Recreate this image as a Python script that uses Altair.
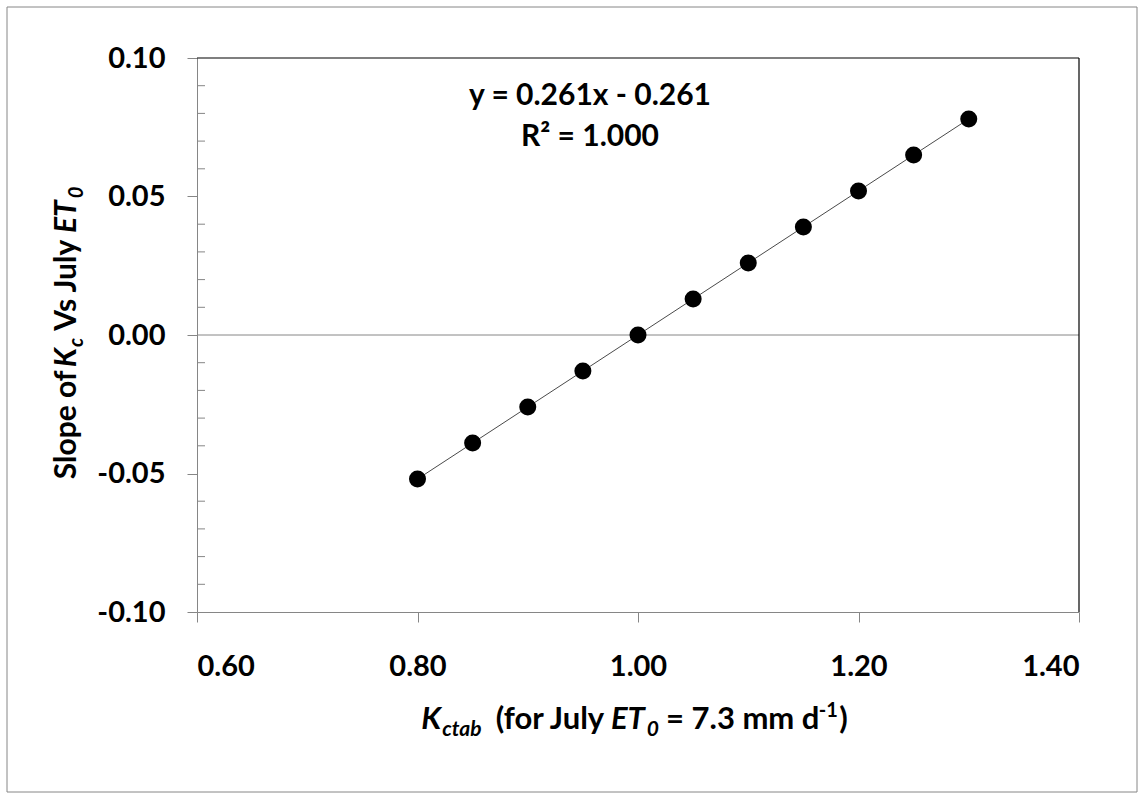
import altair as alt
import pandas as pd

# Tabulated crop coefficient and the slope of Kc against July ET0
kctab = [0.80, 0.85, 0.90, 0.95, 1.00, 1.05, 1.10, 1.15, 1.20, 1.25, 1.30]
slope = [-0.052, -0.039, -0.026, -0.013, 0.000, 0.013, 0.026, 0.039, 0.052, 0.065, 0.078]

x_ticks = [0.60, 0.80, 1.00, 1.20, 1.40]
y_ticks = [-0.10, -0.05, 0.00, 0.05, 0.10]
y_minor = [-0.09, -0.08, -0.07, -0.06, -0.04, -0.03, -0.02, -0.01,
           0.01, 0.02, 0.03, 0.04, 0.06, 0.07, 0.08, 0.09]

equation = ["y = 0.261x - 0.261", "R\u00b2 = 1.000"]

W, H = 882, 554
GRAY = "#868686"
FONT = "Lato"

df = pd.DataFrame({"kctab": kctab, "slope": slope})
xscale = alt.Scale(domain=[0.6, 1.4], nice=False, zero=False)
yscale = alt.Scale(domain=[-0.1, 0.1], nice=False, zero=False)

x_axis = alt.Axis(values=x_ticks, format=".2f", labelPadding=30)
y_axis = alt.Axis(values=y_ticks, labelPadding=22,
                  labelExpr="datum.value < 0 ? '-' + format(-datum.value, '.2f') : format(datum.value, '.2f')")
X = alt.X("kctab:Q", scale=xscale, title=None, axis=x_axis)
Y = alt.Y("slope:Q", scale=yscale, title=None, axis=y_axis)

# rough advance widths (em) of Lato Bold, used to lay out mixed-style titles
CW = {" ": 0.20, "(": 0.31, ")": 0.31, "-": 0.34, ".": 0.22, "=": 0.58,
      "E": 0.57, "J": 0.39, "K": 0.68, "R": 0.64, "S": 0.51, "T": 0.59, "V": 0.68,
      "a": 0.50, "b": 0.56, "c": 0.46, "d": 0.56, "e": 0.53, "f": 0.33, "l": 0.25,
      "m": 0.84, "o": 0.56, "p": 0.56, "r": 0.37, "s": 0.42, "t": 0.36, "u": 0.56,
      "y": 0.52, "x": 0.51}


def text_width(s, size):
    return sum(CW.get(ch, 0.58) for ch in s) * size


one = pd.DataFrame({"k": [0]})


def piece(text, x, y, size, italic=False, angle=0):
    kw = dict(text=text, font=FONT, fontSize=size, fontWeight="bold",
              align="left", baseline="alphabetic", color="black")
    if italic:
        kw["fontStyle"] = "italic"
    if angle:
        kw["angle"] = angle
    return alt.Chart(one).mark_text(**kw).encode(x=alt.value(x), y=alt.value(y))


def rich_title(parts, cx, cy, vertical=False):
    """parts: (gap before in px, text, size, italic, baseline shift)"""
    total = sum(g + text_width(t, s) for g, t, s, _, _ in parts)
    layers = []
    pos = (cy + total / 2) if vertical else (cx - total / 2)
    for gap, t, s, it, shift in parts:
        w = text_width(t, s)
        if vertical:
            pos -= gap
            layers.append(piece(t, cx + shift, pos, s, it, angle=270))
            pos -= w
        else:
            pos += gap
            layers.append(piece(t, pos, cy + shift, s, it))
            pos += w
    return layers


SP = 7  # one word space at the main size
x_title = rich_title([
    (0, "K", 31, True, 0), (0, "ctab", 21, True, 7),
    (2 * SP, "(for July", 31, False, 0), (SP, "ET", 31, True, 0), (0, "0", 21, True, 7),
    (SP, "= 7.3 mm d", 31, False, 0), (4, "-1", 20, False, -12), (2, ")", 31, False, 0),
], cx=438, cy=671)

y_title = rich_title([
    (0, "Slope of", 30, False, 0), (SP, "K", 30, True, 0), (0, "c", 20, True, 7),
    (SP, "Vs July", 30, False, 0), (SP, "ET", 30, True, 0), (0, "0", 20, True, 7),
], cx=-121, cy=275, vertical=True)

zero_line = alt.Chart(pd.DataFrame({"slope": [0.0]})).mark_rule(
    color=GRAY, strokeWidth=1).encode(y=Y)

minor_ticks = alt.Chart(pd.DataFrame({"slope": y_minor})).mark_rule(
    color=GRAY, strokeWidth=1).encode(y=Y, x=alt.value(0), x2=alt.value(8))

trend = alt.Chart(df).transform_regression("kctab", "slope").mark_line(
    color="#4a4a4a", strokeWidth=1).encode(x=X, y=Y)

points = alt.Chart(df).mark_circle(size=290, color="black", opacity=1).encode(x=X, y=Y)

top_border = alt.Chart(one).mark_rule(color="black", strokeWidth=1.2).encode(
    x=alt.value(0), x2=alt.value(W), y=alt.value(0))
right_border = alt.Chart(one).mark_rule(color="black", strokeWidth=1.2).encode(
    x=alt.value(W), y=alt.value(0), y2=alt.value(H))

# frame around the whole figure
outer = alt.Chart(one).mark_rect(fillOpacity=0, stroke=GRAY, strokeWidth=1).encode(
    x=alt.value(7 - 197), x2=alt.value(1137 - 197),
    y=alt.value(7 - 58), y2=alt.value(792 - 58))

eq_layers = [
    alt.Chart(one).mark_text(text=line, font=FONT, fontSize=30, fontWeight="bold",
                             align="center", baseline="alphabetic", color="black")
    .encode(x=alt.value(393), y=alt.value(yb))
    for line, yb in zip(equation, [47, 88])
]

chart = alt.layer(
    outer, zero_line, minor_ticks, trend, points, top_border, right_border,
    *eq_layers, *x_title, *y_title,
).properties(
    width=W, height=H,
    padding={"left": 197, "top": 58, "right": 65, "bottom": 182},
    autosize=alt.AutoSizeParams(type="none"),
    background="white",
).configure_view(strokeWidth=0).configure_axis(
    grid=False, domainColor=GRAY, tickColor=GRAY, tickSize=10,
    labelFont=FONT, labelFontWeight="bold", labelFontSize=29, labelColor="black",
)

chart.save("out.html", embed_options={"renderer": "svg", "actions": False})
